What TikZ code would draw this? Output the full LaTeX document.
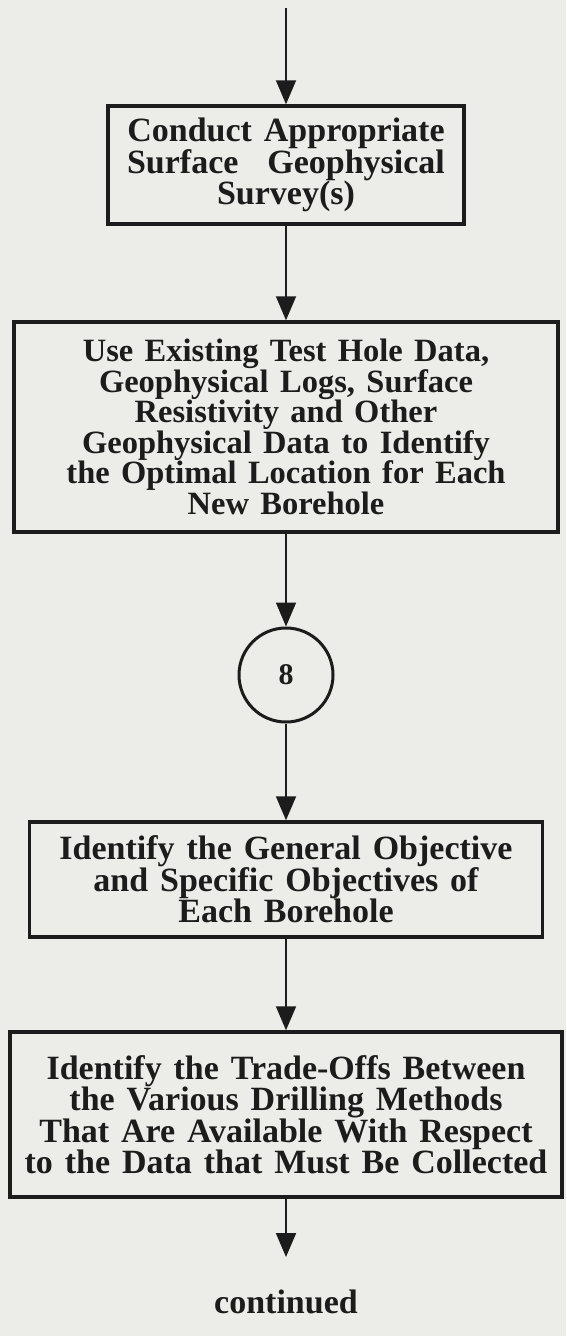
\documentclass[tikz,border=0pt]{standalone}
\usepackage{fontspec}
\setmainfont{Liberation Serif}[WordSpace=1.4]
\usetikzlibrary{arrows.meta}
\definecolor{paper}{RGB}{236,237,232}
\definecolor{ink}{RGB}{28,28,28}
\tikzset{
  stepbox/.style={draw=ink, line width=3.5pt, align=center, inner sep=0pt,
    font=\bfseries\fontsize{34}{31.5}\selectfont, text=ink},
  tightbox/.style={stepbox, font=\bfseries\fontsize{32.5}{30.5}\selectfont},
  connector/.style={draw=ink, line width=1.8pt, -{Triangle[width=20pt,length=24pt]}},
  connectorcircle/.style={draw=ink, line width=3pt, circle, minimum size=94pt,
    inner sep=0pt, font=\bfseries\fontsize{30}{30}\selectfont, text=ink},
  plainlabel/.style={font=\bfseries\fontsize{34}{31}\selectfont, text=ink, inner sep=0pt},
}
\begin{document}
\begin{tikzpicture}[x=1pt,y=1pt]
  \fill[paper] (0,0) rectangle (566,-1336);
  \useasboundingbox (0,0) rectangle (566,-1336);

  \coordinate (start) at (286,-8);

  \node[stepbox, minimum width=356, minimum height=118] (survey) at (286,-165)
    {Conduct Appropriate\\\makebox[9.35em][s]{Surface Geophysical}\\Survey(s)};

  \node[tightbox, minimum width=544, minimum height=210] (location) at (286,-427)
    {Use Existing Test Hole Data,\\Geophysical Logs, Surface\\Resistivity and Other\\
     Geophysical Data to Identify\\the Optimal Location for Each\\New Borehole};

  \node[connectorcircle] (eight) at (286,-675) {8};

  \node[stepbox, minimum width=513, minimum height=115] (objectives) at (286,-879.5)
    {Identify the General Objective\\and Specific Objectives of\\Each Borehole};

  \node[stepbox, minimum width=552, minimum height=165] (tradeoffs) at (286,-1114.5)
    {Identify the Trade-Offs Between\\the Various Drilling Methods\\
     That Are Available With Respect\\to the Data that Must Be Collected};

  \coordinate (end) at (286,-1257);
  \node[plainlabel] (cont) at (286,-1302) {continued};

  \draw[connector] (start) -- (survey.north);
  \draw[connector] (survey.south) -- (location.north);
  \draw[connector] (location.south) -- (eight.north);
  \draw[connector] (eight.south) -- (objectives.north);
  \draw[connector] (objectives.south) -- (tradeoffs.north);
  \draw[connector] (tradeoffs.south) -- (end);
\end{tikzpicture}
\end{document}
